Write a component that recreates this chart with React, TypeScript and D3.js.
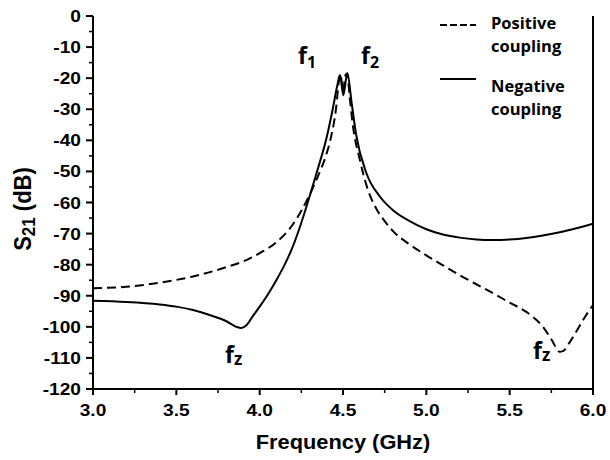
import React from "react";
import * as d3 from "d3";

const posFreq = [3.0, 3.2, 3.4, 3.6, 3.8, 3.9, 4.0, 4.1, 4.2, 4.3, 4.35, 4.4, 4.43, 4.46, 4.475, 4.485, 4.5, 4.515, 4.525, 4.54, 4.56, 4.6, 4.65, 4.7, 4.75, 4.8, 4.9, 5.0, 5.1, 5.2, 5.3, 5.4, 5.5, 5.6, 5.65, 5.7, 5.75, 5.8, 5.82, 5.86, 5.9, 5.95, 6.0];
const posS21 = [-87.6, -87.1, -85.8, -83.8, -80.8, -79.0, -76.3, -72.8, -67.0, -57.5, -51.5, -44.5, -38.5, -29, -21, -18.8, -24.0, -19, -18.5, -26, -35.5, -46, -56, -62, -66, -69.2, -73.5, -77, -80.2, -83.4, -86.3, -89.2, -92.2, -95.2, -97.3, -100, -104, -108, -107.8, -105, -101.5, -97, -93];

const negFreq = [3.0, 3.2, 3.4, 3.5, 3.6, 3.7, 3.8, 3.86, 3.89, 3.92, 3.96, 4.0, 4.05, 4.1, 4.15, 4.2, 4.25, 4.3, 4.35, 4.4, 4.44, 4.465, 4.482, 4.502, 4.526, 4.552, 4.58, 4.64, 4.72, 4.8, 4.9, 5.0, 5.1, 5.2, 5.3, 5.4, 5.5, 5.6, 5.7, 5.8, 5.9, 6.0];
const negS21 = [-91.6, -92.0, -92.8, -93.5, -94.6, -96.2, -98.2, -100, -100.4, -99.5, -96.5, -93.5, -89.5, -85, -80, -74, -66.5, -58, -49, -39.5, -29.5, -22.5, -19, -25.5, -18.4, -28, -38.5, -50.5, -58, -62.5, -66, -68.6, -70.3, -71.3, -71.9, -72.1, -71.9, -71.4, -70.6, -69.6, -68.3, -66.8];

const xMajorTicks = [3.0, 3.5, 4.0, 4.5, 5.0, 5.5, 6.0];
const yMajorTicks = [0, -10, -20, -30, -40, -50, -60, -70, -80, -90, -100, -110, -120];
const legendLabels = [["Positive", "coupling"], ["Negative", "coupling"]];

const W = 610, H = 460;
const L = 93, R = 593, T = 16, B = 389;

export default function App() {
  const x = d3.scaleLinear().domain([3, 6]).range([L, R]);
  const y = d3.scaleLinear().domain([-120, 0]).range([B, T]);
  const line = d3.line<[number, number]>().x(d => x(d[0])).y(d => y(d[1])).curve(d3.curveMonotoneX);
  const posPts = posFreq.map((f, i) => [f, posS21[i]] as [number, number]);
  const negPts = negFreq.map((f, i) => [f, negS21[i]] as [number, number]);
  const xMinor = d3.range(3.25, 6, 0.5);
  const yMinor = d3.range(-115, 0, 10);
  const tickFont = "'Liberation Sans', Arial, sans-serif";
  const annFont = "'Open Sans', sans-serif";

  return (
    <svg width={W} height={H} style={{ position: "absolute", left: 0, top: 0, background: "#fff" }}>
      <rect x={0} y={0} width={W} height={H} fill="#fff" />
      <defs>
        <clipPath id="plotclip"><rect x={L} y={T - 4} width={R - L} height={B - T + 4} /></clipPath>
      </defs>
      <g clipPath="url(#plotclip)" fill="none" stroke="#000" strokeWidth={2}>
        <path d={line(posPts) || ""} strokeDasharray="9,5" />
        <path d={line(negPts) || ""} />
      </g>
      <g stroke="#000" strokeWidth={2} fill="none">
        <line x1={L} y1={T} x2={L} y2={B + 1} />
        <line x1={L - 1} y1={B} x2={R + 1} y2={B} />
        <line x1={R} y1={T} x2={R} y2={B + 1} />
        {xMajorTicks.map(t => <line key={"xt" + t} x1={x(t)} x2={x(t)} y1={B} y2={B + 6} />)}
        {xMinor.map(t => <line key={"xm" + t} x1={x(t)} x2={x(t)} y1={B} y2={B + 4} strokeWidth={1.5} />)}
        {yMajorTicks.map(t => <line key={"yt" + t} x1={L - 7} x2={L} y1={y(t)} y2={y(t)} />)}
        {yMinor.map(t => <line key={"ym" + t} x1={L - 4} x2={L} y1={y(t)} y2={y(t)} strokeWidth={1.5} />)}
      </g>
      <g fontFamily={tickFont} fontWeight="bold" fontSize={16.5} fill="#000">
        {xMajorTicks.map(t => (
          <text key={"xl" + t} transform={`translate(${x(t)},${416}) scale(1.16,1)`} textAnchor="middle">{t.toFixed(1)}</text>
        ))}
        {yMajorTicks.map(t => (
          <text key={"yl" + t} transform={`translate(${L - 12},${y(t) + 6}) scale(1.16,1)`} textAnchor="end">{t}</text>
        ))}
        <text transform={`translate(${x(4.5)},${449}) scale(1.12,1)`} textAnchor="middle" fontSize={19.5}>Frequency (GHz)</text>
        <text transform={`translate(31,${209}) rotate(-90) scale(1,1.1)`} textAnchor="middle" fontSize={22}>
          S<tspan fontSize={17} dy={4}>21</tspan><tspan dy={-4}> (dB)</tspan>
        </text>
      </g>
      <g stroke="#000" strokeWidth={2}>
        <line x1={440} x2={476} y1={25} y2={25} strokeDasharray="7,3" />
        <line x1={440} x2={476} y1={79} y2={79} />
      </g>
      <g fontFamily={annFont} fontWeight="bold" fontSize={16.5} fill="#000">
        <text x={491} y={29}>{legendLabels[0][0]}</text>
        <text x={491} y={52}>{legendLabels[0][1]}</text>
        <text x={491} y={92}>{legendLabels[1][0]}</text>
        <text x={491} y={115}>{legendLabels[1][1]}</text>
      </g>
      <g fontFamily={annFont} fontWeight="bold" fontSize={23} fill="#000">
        <text x={298} y={64}>f<tspan fontSize={16} dy={4}>1</tspan></text>
        <text x={361} y={64}>f<tspan fontSize={16} dy={4}>2</tspan></text>
        <text x={225} y={363}>f<tspan fontSize={17} dy={2}>z</tspan></text>
        <text x={533} y={359}>f<tspan fontSize={17} dy={2}>z</tspan></text>
      </g>
    </svg>
  );
}
